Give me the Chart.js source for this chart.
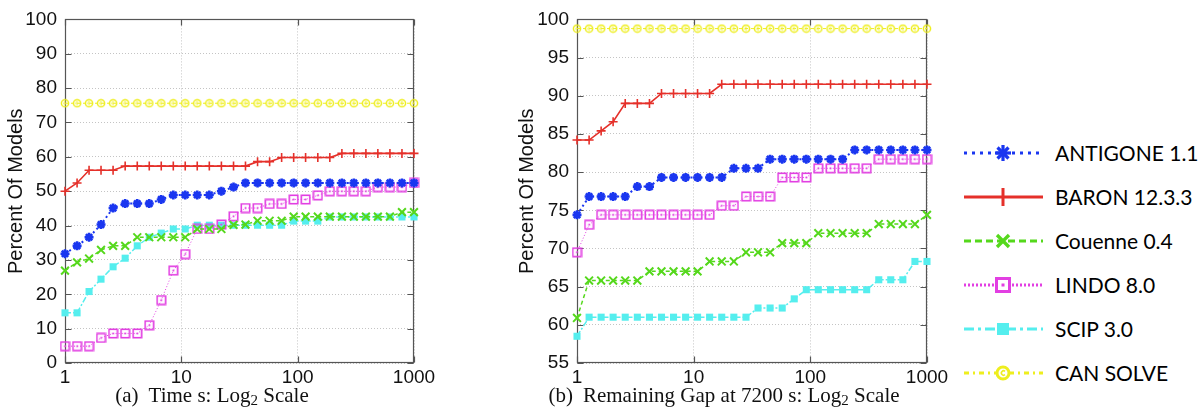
<!DOCTYPE html>
<html>
<head>
<meta charset="utf-8">
<script src="https://cdn.jsdelivr.net/npm/chart.js@4/dist/chart.umd.min.js"></script>
<style>
  body { margin: 0; background: #fff; width: 1204px; height: 412px; position: relative; overflow: hidden; }
  canvas { position: absolute; top: 0; }
  .caption { position: absolute; top: 383px; font-family: "Liberation Serif", serif; font-size: 21px; color: #111; white-space: nowrap; transform: translateX(-50%); }
  .caption .tag { margin-right: 10px; }
  .caption sub { font-size: 15px; vertical-align: -3px; line-height: 0; }
  .legend-row { position: absolute; left: 960px; height: 44px; width: 244px; }
  .legend-row svg { position: absolute; left: 0; top: 0; }
  .legend-row span { position: absolute; left: 95px; top: 0; line-height: 44px; font-family: Lato, "Open Sans", sans-serif; font-size: 21px; color: #000; }
</style>
</head>
<body>
<canvas id="timeChart" width="440" height="400" style="left:0px"></canvas>
<canvas id="gapChart" width="442" height="400" style="left:511px"></canvas>
<div class="caption" style="left:212px"><span class="tag">(a)</span>Time s: Log<sub>2</sub> Scale</div>
<div class="caption" style="left:724px"><span class="tag">(b)</span>Remaining Gap at 7200 s: Log<sub>2</sub> Scale</div>
<div id="legend"></div>
<script>
// sample positions along the x axis (same for both panels)
const xPoints = [1, 1.27, 1.61, 2.04, 2.59, 3.29, 4.18, 5.3, 6.72, 8.53, 10.8, 13.7, 17.4, 22.1, 28.1,
  35.6, 45.2, 57.4, 72.8, 92.4, 117, 149, 189, 240, 304, 386, 489, 621, 788, 1000];
const xTicks = [1, 10, 100, 1000];

const solverNames = ["ANTIGONE 1.1", "BARON 12.3.3", "Couenne 0.4", "LINDO 8.0", "SCIP 3.0", "CAN SOLVE"];

// (a) time
const timeAntigone = [31.8, 34.1, 36.6, 40.3, 45.1, 46.4, 46.4, 46.4, 47.6, 48.9, 48.9, 48.9, 48.9, 50.0, 51.2,
  52.4, 52.4, 52.4, 52.4, 52.4, 52.4, 52.4, 52.4, 52.4, 52.4, 52.4, 52.4, 52.4, 52.4, 52.4];
const timeBaron = [50.0, 52.4, 56.1, 56.1, 56.1, 57.3, 57.3, 57.3, 57.3, 57.3, 57.3, 57.3, 57.3, 57.3, 57.3,
  57.3, 58.6, 58.6, 59.8, 59.8, 59.8, 59.8, 59.8, 61.0, 61.0, 61.0, 61.0, 61.0, 61.0, 61.0];
const timeCouenne = [26.9, 29.3, 30.4, 32.9, 34.1, 34.1, 36.6, 36.6, 36.6, 36.6, 36.6, 39.0, 39.0, 39.0, 40.2,
  40.3, 41.4, 41.4, 41.4, 42.6, 42.6, 42.6, 42.6, 42.6, 42.6, 42.6, 42.6, 42.6, 43.9, 43.9];
const timeLindo = [4.9, 4.9, 4.9, 7.3, 8.6, 8.6, 8.6, 11.0, 18.3, 26.9, 31.7, 39.0, 39.0, 40.3, 42.7,
  45.1, 45.1, 46.3, 46.3, 47.6, 47.6, 48.8, 50.0, 50.0, 50.0, 50.0, 51.2, 51.2, 51.2, 52.4];
const timeScip = [14.6, 14.6, 20.8, 24.4, 28.0, 30.5, 34.1, 36.6, 37.8, 39.0, 39.0, 40.1, 40.1, 40.1, 40.1,
  40.1, 40.1, 40.1, 40.1, 41.3, 41.3, 41.3, 42.5, 42.5, 42.5, 42.5, 42.5, 42.5, 42.5, 42.5];
const timeCanSolve = [75.6, 75.6, 75.6, 75.6, 75.6, 75.6, 75.6, 75.6, 75.6, 75.6, 75.6, 75.6, 75.6, 75.6, 75.6,
  75.6, 75.6, 75.6, 75.6, 75.6, 75.6, 75.6, 75.6, 75.6, 75.6, 75.6, 75.6, 75.6, 75.6, 75.6];

// (b) remaining gap
const gapAntigone = [74.4, 76.8, 76.8, 76.8, 76.8, 78.1, 78.1, 79.3, 79.3, 79.3, 79.3, 79.3, 79.3, 80.5, 80.5,
  80.5, 81.7, 81.7, 81.7, 81.7, 81.7, 81.7, 81.7, 82.9, 82.9, 82.9, 82.9, 82.9, 82.9, 82.9];
const gapBaron = [84.2, 84.2, 85.4, 86.6, 89.0, 89.0, 89.0, 90.3, 90.3, 90.3, 90.3, 90.3, 91.5, 91.5, 91.5,
  91.5, 91.5, 91.5, 91.5, 91.5, 91.5, 91.5, 91.5, 91.5, 91.5, 91.5, 91.5, 91.5, 91.5, 91.5];
const gapCouenne = [60.9, 65.8, 65.8, 65.8, 65.8, 65.8, 67.0, 67.0, 67.0, 67.0, 67.0, 68.3, 68.3, 68.3, 69.5,
  69.5, 69.5, 70.7, 70.7, 70.7, 72.0, 72.0, 72.0, 72.0, 72.0, 73.2, 73.2, 73.2, 73.2, 74.4];
const gapLindo = [69.5, 73.1, 74.4, 74.4, 74.4, 74.4, 74.4, 74.4, 74.4, 74.4, 74.4, 74.4, 75.6, 75.6, 76.8,
  76.8, 76.8, 79.3, 79.3, 79.3, 80.5, 80.5, 80.5, 80.5, 80.5, 81.7, 81.7, 81.7, 81.7, 81.7];
const gapScip = [58.5, 61.0, 61.0, 61.0, 61.0, 61.0, 61.0, 61.0, 61.0, 61.0, 61.0, 61.0, 61.0, 61.0, 61.0,
  62.2, 62.2, 62.2, 63.4, 64.6, 64.6, 64.6, 64.6, 64.6, 64.6, 65.9, 65.9, 65.9, 68.3, 68.3];
const gapCanSolve = [98.8, 98.8, 98.8, 98.8, 98.8, 98.8, 98.8, 98.8, 98.8, 98.8, 98.8, 98.8, 98.8, 98.8, 98.8,
  98.8, 98.8, 98.8, 98.8, 98.8, 98.8, 98.8, 98.8, 98.8, 98.8, 98.8, 98.8, 98.8, 98.8, 98.8];

const colors = ["#1a36f0", "#e5302a", "#55d81c", "#e23fe2", "#55eeee", "#eeee1e"];

Chart.defaults.font.family = "'Liberation Sans', Arial, sans-serif";
Chart.defaults.color = "#111";

//small image markers for the hollow styles
const makeMarker = (size, draw) => {
  const c = document.createElement("canvas");
  c.width = size;
  c.height = size;
  draw(c.getContext("2d"), size);
  return c;
};
const lindoMarker = makeMarker(11, (ctx) => {
  ctx.strokeStyle = colors[3];
  ctx.lineWidth = 1.6;
  ctx.strokeRect(1.3, 1.3, 8.4, 8.4);
  ctx.fillStyle = colors[3];
  ctx.fillRect(4.6, 4.6, 1.8, 1.8);
});
const canSolveMarker = makeMarker(10, (ctx) => {
  ctx.strokeStyle = colors[5];
  ctx.lineWidth = 1.5;
  ctx.beginPath();
  ctx.arc(5, 5, 3.6, 0, Math.PI * 2);
  ctx.stroke();
  ctx.lineWidth = 1;
  ctx.beginPath();
  ctx.arc(5, 5, 1.2, 0.6, Math.PI * 2 - 0.6);
  ctx.stroke();
});

const styles = [
  { borderDash: [2, 3], borderWidth: 2, pointStyle: "star", pointRadius: 4.5, pointBorderWidth: 2.6 },
  { borderDash: [], borderWidth: 1.6, pointStyle: "cross", pointRadius: 4.5, pointBorderWidth: 1.6 },
  { borderDash: [4, 3], borderWidth: 1.5, pointStyle: "crossRot", pointRadius: 5.5, pointBorderWidth: 2 },
  { borderDash: [1, 2], borderWidth: 1, pointStyle: lindoMarker, pointRadius: 5, pointBorderWidth: 0 },
  { borderDash: [6, 2, 2, 2], borderWidth: 1.5, pointStyle: "rect", pointRadius: 5, pointBorderWidth: 0 },
  { borderDash: [3, 3], borderWidth: 1, pointStyle: canSolveMarker, pointRadius: 4, pointBorderWidth: 0 },
];

const toPoints = (values) => values.map((v, i) => ({ x: xPoints[i], y: v }));

const buildDatasets = (seriesList) =>
  seriesList.map((values, i) => ({
    label: solverNames[i],
    data: toPoints(values),
    borderColor: colors[i],
    backgroundColor: colors[i],
    pointBackgroundColor: colors[i],
    pointBorderColor: colors[i],
    tension: 0,
    clip: false,
    ...styles[i],
  }));

//box round the plot with inward tick marks
const framePlugin = {
  id: "frame",
  beforeDatasetsDraw(chart) {
    const { ctx, chartArea: a, scales } = chart;
    const L = Math.round(a.left) + 0.5, R = Math.round(a.right) - 0.5;
    const T = Math.round(a.top) + 0.5, B = Math.round(a.bottom) - 0.5;
    ctx.save();
    ctx.strokeStyle = "#555";
    ctx.lineWidth = 1.2;
    ctx.strokeRect(L, T, R - L, B - T);
    ctx.beginPath();
    scales.y.ticks.forEach((t) => {
      const py = Math.round(scales.y.getPixelForValue(t.value)) + 0.5;
      ctx.moveTo(L, py); ctx.lineTo(L + 6, py);
      ctx.moveTo(R, py); ctx.lineTo(R - 6, py);
    });
    scales.x.ticks.forEach((t) => {
      const px = Math.round(scales.x.getPixelForValue(t.value)) + 0.5;
      ctx.moveTo(px, B); ctx.lineTo(px, B - 6);
      ctx.moveTo(px, T); ctx.lineTo(px, T + 6);
    });
    ctx.stroke();
    ctx.restore();
  },
};

const makeChart = (id, seriesList, yMin, yMax, yStep, yWidth) =>
  new Chart(document.getElementById(id), {
    type: "line",
    data: { datasets: buildDatasets(seriesList) },
    options: {
      responsive: false,
      animation: false,
      events: [],
      layout: { padding: { top: 14, right: 26, left: 0, bottom: 0 } },
      plugins: { legend: { display: false }, tooltip: { enabled: false } },
      scales: {
        x: {
          type: "logarithmic",
          min: 1,
          max: 1000,
          afterBuildTicks: (s) => { s.ticks = xTicks.map((v) => ({ value: v })); },
          afterFit: (s) => { s.height = 37; },
          ticks: { font: { size: 19 }, padding: 3, maxRotation: 0, callback: (v) => String(v) },
          grid: { color: "#c4c4c4", lineWidth: 1, drawTicks: false },
          border: { display: false, dash: [1, 2] },
        },
        y: {
          min: yMin,
          max: yMax,
          afterFit: (s) => { s.width = yWidth; },
          ticks: { stepSize: yStep, font: { size: 19 }, padding: 8 },
          grid: { color: "#c4c4c4", lineWidth: 1, drawTicks: false },
          border: { display: false, dash: [1, 2] },
          title: { display: true, text: "Percent Of Models", font: { size: 20 }, padding: { top: 4, bottom: 0 } },
        },
      },
    },
    plugins: [framePlugin],
  });

makeChart("timeChart", [timeAntigone, timeBaron, timeCouenne, timeLindo, timeScip, timeCanSolve], 0, 100, 10, 65);
makeChart("gapChart", [gapAntigone, gapBaron, gapCouenne, gapLindo, gapScip, gapCanSolve], 55, 100, 5, 66);

//legend on the right, line sample + marker per solver
const legendDash = ["3 5", "", "7 4", "2 2", "10 4 3 4", "5 4 2 4"];
const legendMarker = [
  (c) => `<g stroke="${c}" stroke-width="3.2"><line x1="43" y1="14" x2="43" y2="30"/><line x1="35" y1="22" x2="51" y2="22"/><line x1="37.5" y1="16.5" x2="48.5" y2="27.5"/><line x1="37.5" y1="27.5" x2="48.5" y2="16.5"/></g>`,
  (c) => `<line x1="43" y1="13" x2="43" y2="31" stroke="${c}" stroke-width="3"/>`,
  (c) => `<g stroke="${c}" stroke-width="3.4"><line x1="37" y1="16" x2="49" y2="28"/><line x1="37" y1="28" x2="49" y2="16"/></g>`,
  (c) => `<rect x="36.5" y="15.5" width="13" height="13" fill="#fff" stroke="${c}" stroke-width="3"/><rect x="41.5" y="20.5" width="3" height="3" fill="${c}"/>`,
  (c) => `<rect x="37" y="16" width="12" height="12" fill="${c}"/>`,
  (c) => `<circle cx="43" cy="22" r="6" fill="#fff" stroke="${c}" stroke-width="3"/><path d="M45 20.3 A2.2 2.2 0 1 0 45 23.7" fill="none" stroke="${c}" stroke-width="1.6"/>`,
];
const legendTops = [153, 197, 241, 285, 329, 373];
const legend = document.getElementById("legend");
solverNames.forEach((name, i) => {
  const row = document.createElement("div");
  row.className = "legend-row";
  row.style.top = legendTops[i] - 22 + "px";
  const dash = legendDash[i] ? `stroke-dasharray="${legendDash[i]}"` : "";
  row.innerHTML =
    `<svg width="90" height="44"><line x1="4" y1="22" x2="83" y2="22" stroke="${colors[i]}" stroke-width="3" ${dash}/>` +
    legendMarker[i](colors[i]) + `</svg><span>${name}</span>`;
  legend.appendChild(row);
});
</script>
</body>
</html>
